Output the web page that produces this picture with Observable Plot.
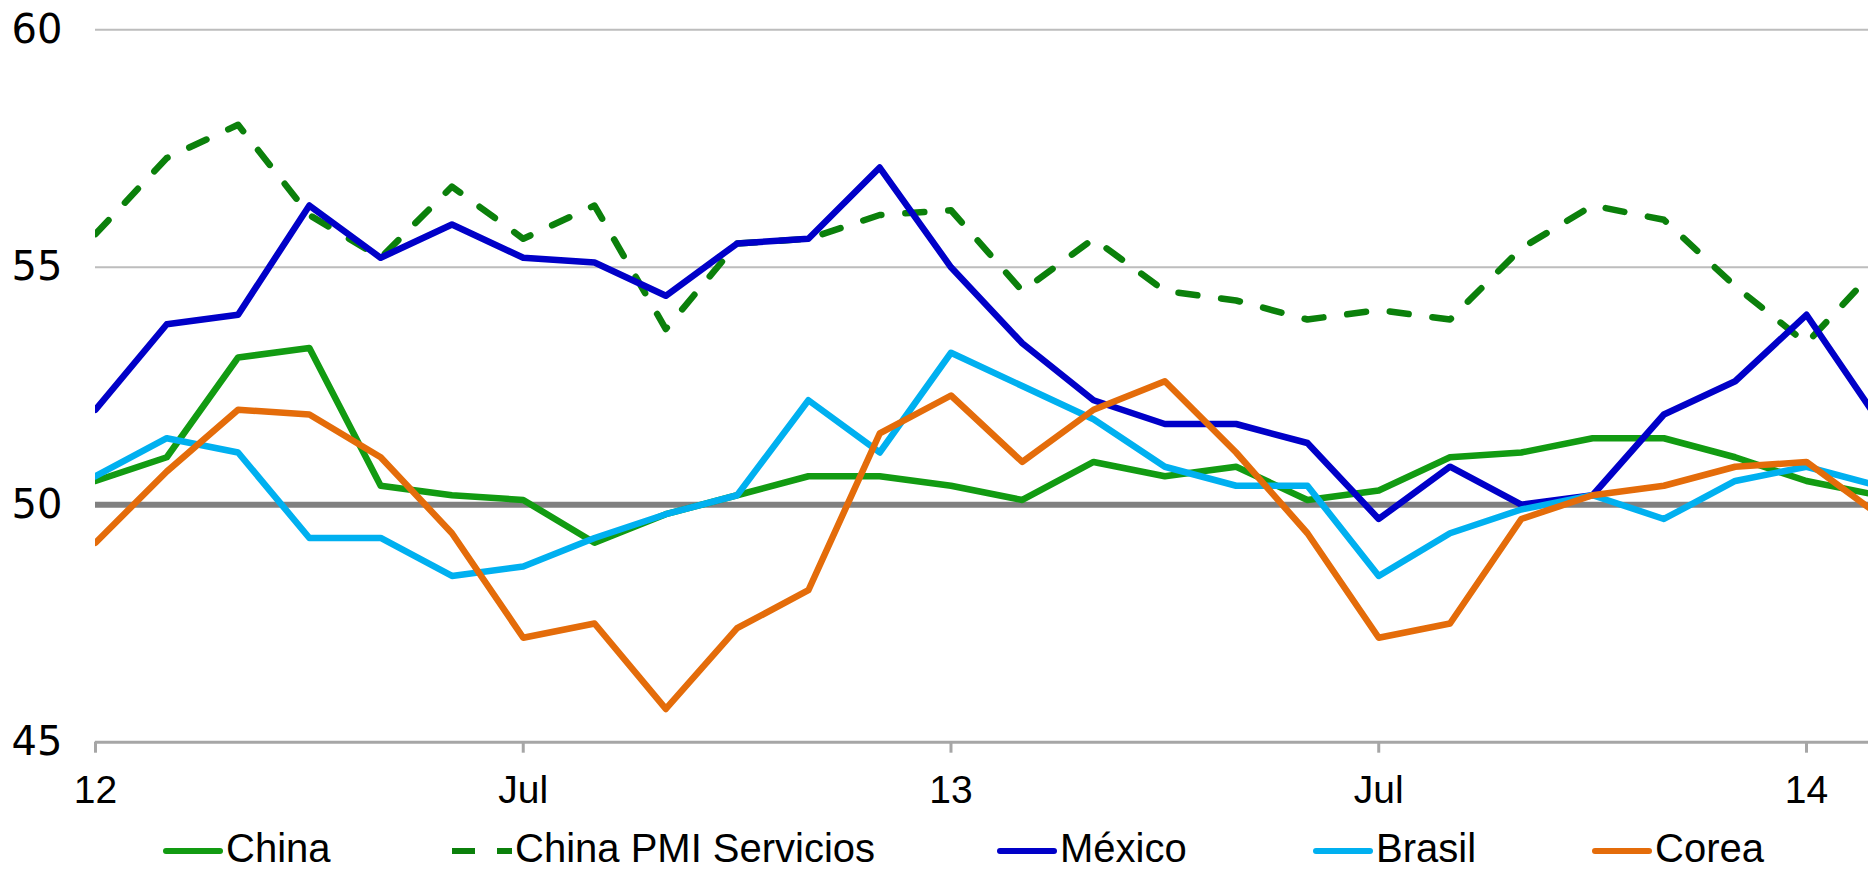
<!DOCTYPE html>
<html>
<head>
<meta charset="utf-8">
<script src="https://cdn.jsdelivr.net/npm/d3@7"></script>
<script src="https://cdn.jsdelivr.net/npm/@observablehq/plot@0.6"></script>
<style>
  body { margin: 0; background: #fff; }
  #chart svg { display: block; }
  #legend { position: relative; width: 1868px; height: 59px; font-family: "Liberation Sans", Arial, sans-serif; font-size: 40px; color: #000; }
  .item { position: absolute; top: 18px; height: 40px; line-height: 40px; white-space: nowrap; }
  .item svg { vertical-align: middle; margin-right: 3px; }
</style>
</head>
<body>
<div id="chart"></div>
<div id="legend"></div>
<script>
// Monthly PMI readings, January 2012 – February 2014
const months = [
  "2012-01","2012-02","2012-03","2012-04","2012-05","2012-06",
  "2012-07","2012-08","2012-09","2012-10","2012-11","2012-12",
  "2013-01","2013-02","2013-03","2013-04","2013-05","2013-06",
  "2013-07","2013-08","2013-09","2013-10","2013-11","2013-12",
  "2014-01","2014-02"
];

const china = [50.5,51.0,53.1,53.3,50.4,50.2,50.1,49.2,49.8,50.2,50.6,50.6,
               50.4,50.1,50.9,50.6,50.8,50.1,50.3,51.0,51.1,51.4,51.4,51.0,50.5,50.2];
const chinaServicios = [55.7,57.3,58.0,56.1,55.2,56.7,55.6,56.3,53.7,55.5,55.6,56.1,
                        56.2,54.5,55.6,54.5,54.3,53.9,54.1,53.9,55.4,56.3,56.0,54.6,53.4,55.0];
const mexico = [52.0,53.8,54.0,56.3,55.2,55.9,55.2,55.1,54.4,55.5,55.6,57.1,
                55.0,53.4,52.2,51.7,51.7,51.3,49.7,50.8,50.0,50.2,51.9,52.6,54.0,51.8];
const brasil = [50.6,51.4,51.1,49.3,49.3,48.5,48.7,49.3,49.8,50.2,52.2,51.1,
                53.2,52.5,51.8,50.8,50.4,50.4,48.5,49.4,49.9,50.2,49.7,50.5,50.8,50.4];
const corea = [49.2,50.7,52.0,51.9,51.0,49.4,47.2,47.5,45.7,47.4,48.2,51.5,
               52.3,50.9,52.0,52.6,51.1,49.4,47.2,47.5,49.7,50.2,50.4,50.8,50.9,49.8];

const seriesNames = ["China", "China PMI Servicios", "México", "Brasil", "Corea"];
const seriesValues = [china, chinaServicios, mexico, brasil, corea];

const xTickMonths = ["2012-01","2012-07","2013-01","2013-07","2014-01"];
const xTickLabels = ["12","Jul","13","Jul","14"];
const yTicks = [45, 50, 55, 60];

// Styling
const colors = {
  "China": "#129b12",
  "China PMI Servicios": "#0b800b",
  "México": "#0000c8",
  "Brasil": "#00b0f0",
  "Corea": "#e46c0a"
};
const dashed = {"China PMI Servicios": "19,24"};
const legendLeft = [163, 452, 997, 1313, 1592];

// Long-format table for Plot
const rows = [];
seriesNames.forEach((name, s) => {
  seriesValues[s].forEach((v, i) => rows.push({series: name, t: i, month: months[i], value: v}));
});
const tickIdx = xTickMonths.map(m => months.indexOf(m));

const lineMarks = seriesNames.map(name =>
  Plot.line(rows.filter(r => r.series === name), {
    x: "t", y: "value",
    stroke: colors[name],
    strokeWidth: 6.5,
    strokeDasharray: dashed[name],
    strokeLinecap: "round",
    strokeLinejoin: "round",
    clip: true
  })
);

const chart = Plot.plot({
  width: 1868,
  height: 810,
  marginLeft: 95,
  marginRight: 0,
  marginTop: 29.3,
  marginBottom: 68.3,
  x: {domain: [0, 24.87], axis: null},
  y: {domain: [45, 60], axis: null},
  marks: [
    Plot.ruleY([55, 60], {stroke: "#bdbdbd", strokeWidth: 2}),
    Plot.ruleY([50], {stroke: "#808080", strokeWidth: 6}),
    Plot.ruleY([45], {stroke: "#a6a6a6", strokeWidth: 3}),
    Plot.axisX(tickIdx, {
      anchor: "bottom",
      label: null,
      tickSize: 11,
      tickPadding: 22,
      stroke: "#a6a6a6",
      strokeWidth: 3,
      fill: "#000",
      fontSize: 39,
      fontFamily: "Liberation Sans, Arial, sans-serif",
      tickFormat: (d) => xTickLabels[tickIdx.indexOf(d)]
    }),
    Plot.axisY(yTicks, {
      anchor: "left",
      label: null,
      tickSize: 0,
      tickPadding: 33,
      fill: "#000",
      fontSize: 40,
      fontFamily: "DejaVu Sans, sans-serif"
    }),
    ...lineMarks
  ]
});
document.getElementById("chart").append(chart);

// Legend row below the chart
const legend = document.getElementById("legend");
seriesNames.forEach((name, i) => {
  const item = document.createElement("div");
  item.className = "item";
  item.style.left = legendLeft[i] + "px";
  const isDash = !!dashed[name];
  const sw = isDash
    ? `<svg width="60" height="12"><line x1="0" x2="60" y1="6" y2="6" stroke="${colors[name]}" stroke-width="6" stroke-dasharray="23,22"/></svg>`
    : `<svg width="60" height="12"><line x1="3" x2="57" y1="6" y2="6" stroke="${colors[name]}" stroke-width="6" stroke-linecap="round"/></svg>`;
  item.innerHTML = sw + `<span>${name}</span>`;
  legend.append(item);
});
</script>
</body>
</html>
